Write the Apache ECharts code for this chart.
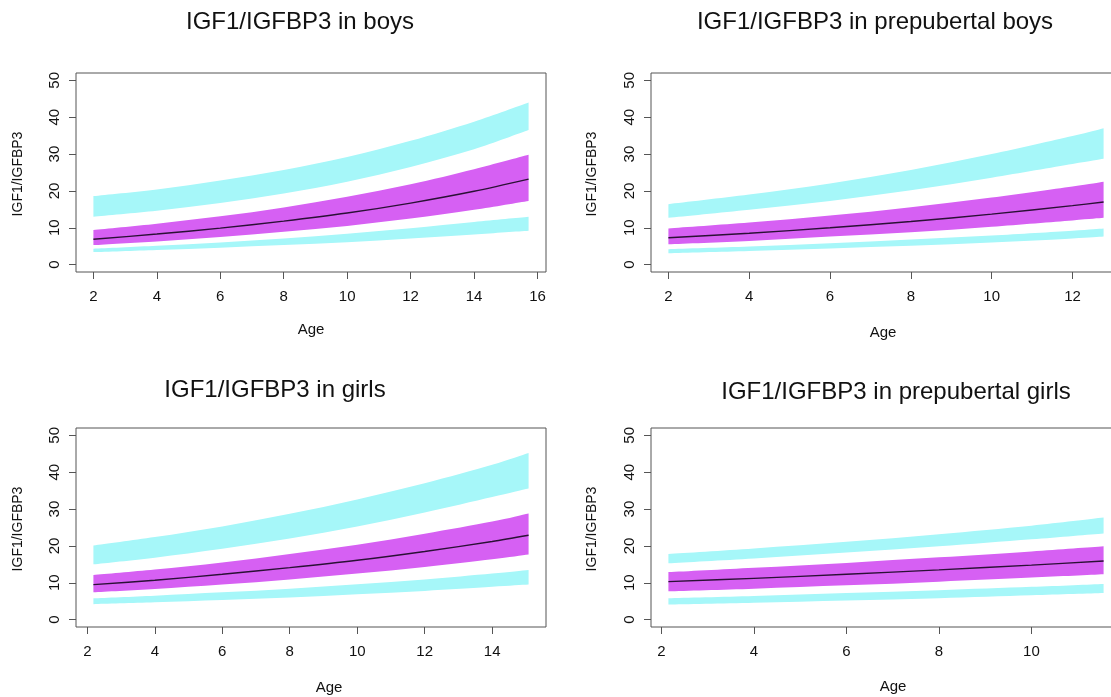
<!DOCTYPE html>
<html><head><meta charset="utf-8">
<script src="https://cdn.jsdelivr.net/npm/echarts@6/dist/echarts.min.js"></script>
<style>html,body{margin:0;padding:0;background:#fff}#c{width:1111px;height:697px}</style>
</head><body><div id="c"></div>
<script>
// ---------- data ----------
const panelTitles = ['IGF1/IGFBP3 in boys', 'IGF1/IGFBP3 in prepubertal boys', 'IGF1/IGFBP3 in girls', 'IGF1/IGFBP3 in prepubertal girls'];
const xTickLabels = [[2,4,6,8,10,12,14,16],[2,4,6,8,10,12],[2,4,6,8,10,12,14],[2,4,6,8,10]];
const yTickLabels = [0,10,20,30,40,50];

// boys
const boysAge       = [2, 4, 6, 8, 10, 12, 14, 15.72];
const boysHiTop     = [18.6, 20.4, 22.8, 25.7, 29.2, 33.6, 38.8, 44.0];
const boysHiBot     = [13.0, 14.6, 16.7, 19.3, 22.5, 26.5, 31.3, 36.5];
const boysMidTop    = [9.4, 11.1, 13.1, 15.5, 18.4, 21.8, 25.9, 29.8];
const boysMedian    = [6.9, 8.3, 9.9, 11.8, 14.0, 16.7, 19.9, 23.2];
const boysMidBot    = [5.3, 6.3, 7.5, 8.9, 10.5, 12.5, 14.9, 17.3];
const boysLoTop     = [4.3, 5.1, 6.0, 7.1, 8.4, 9.9, 11.6, 13.0];
const boysLoBot     = [3.4, 4.0, 4.6, 5.3, 6.1, 7.1, 8.2, 9.2];
// prepubertal boys
const pBoysAge      = [2, 4, 6, 8, 10, 12, 12.77];
const pBoysHiTop    = [16.4, 19.0, 22.0, 25.7, 30.0, 34.9, 37.0];
const pBoysHiBot    = [12.7, 14.9, 17.3, 20.2, 23.6, 27.3, 28.7];
const pBoysMidTop   = [9.8, 11.4, 13.3, 15.6, 18.2, 21.2, 22.5];
const pBoysMedian   = [7.3, 8.5, 10.0, 11.7, 13.7, 16.0, 17.0];
const pBoysMidBot   = [5.5, 6.4, 7.6, 8.8, 10.3, 12.0, 12.7];
const pBoysLoTop    = [4.2, 4.9, 5.8, 6.8, 7.9, 9.2, 9.8];
const pBoysLoBot    = [3.1, 3.7, 4.4, 5.1, 6.0, 7.1, 7.6];
// girls
const girlsAge      = [2.18, 4, 6, 8, 10, 12, 14, 15.08];
const girlsHiTop    = [20.1, 22.4, 25.3, 28.7, 32.6, 37.0, 42.0, 45.2];
const girlsHiBot    = [15.0, 16.8, 19.2, 22.0, 25.3, 29.1, 33.3, 35.6];
const girlsMidTop   = [12.1, 13.6, 15.5, 17.8, 20.3, 23.3, 26.6, 28.8];
const girlsMedian   = [9.5, 10.7, 12.3, 14.1, 16.1, 18.5, 21.2, 22.9];
const girlsMidBot   = [7.4, 8.3, 9.5, 10.9, 12.5, 14.3, 16.4, 17.7];
const girlsLoTop    = [5.8, 6.5, 7.4, 8.4, 9.6, 10.9, 12.5, 13.5];
const girlsLoBot    = [4.2, 4.7, 5.3, 6.0, 6.9, 7.8, 8.9, 9.5];
// prepubertal girls
const pGirlsAge     = [2.15, 4, 6, 8, 10, 11.56];
const pGirlsHiTop   = [17.8, 19.3, 21.1, 23.2, 25.5, 27.7];
const pGirlsHiBot   = [15.3, 16.6, 18.2, 19.9, 21.8, 23.4];
const pGirlsMidTop  = [12.9, 14.1, 15.4, 16.9, 18.5, 19.9];
const pGirlsMedian  = [10.3, 11.2, 12.3, 13.5, 14.8, 15.9];
const pGirlsMidBot  = [7.7, 8.4, 9.3, 10.3, 11.4, 12.3];
const pGirlsLoTop   = [5.8, 6.4, 7.2, 8.0, 8.9, 9.7];
const pGirlsLoBot   = [4.1, 4.6, 5.2, 5.8, 6.6, 7.2];

// ---------- layout & style ----------
const panels = [
  {age: boysAge,   hiTop: boysHiTop,   hiBot: boysHiBot,   midTop: boysMidTop,   med: boysMedian,   midBot: boysMidBot,   loTop: boysLoTop,   loBot: boysLoBot},
  {age: pBoysAge,  hiTop: pBoysHiTop,  hiBot: pBoysHiBot,  midTop: pBoysMidTop,  med: pBoysMedian,  midBot: pBoysMidBot,  loTop: pBoysLoTop,  loBot: pBoysLoBot},
  {age: girlsAge,  hiTop: girlsHiTop,  hiBot: girlsHiBot,  midTop: girlsMidTop,  med: girlsMedian,  midBot: girlsMidBot,  loTop: girlsLoTop,  loBot: girlsLoBot},
  {age: pGirlsAge, hiTop: pGirlsHiTop, hiBot: pGirlsHiBot, midTop: pGirlsMidTop, med: pGirlsMedian, midBot: pGirlsMidBot, loTop: pGirlsLoTop, loBot: pGirlsLoBot}
];
const boxes = [
  {left: 76,  top: 73,  width: 470, height: 199},
  {left: 651, top: 73,  width: 470, height: 199},
  {left: 76,  top: 428, width: 470, height: 199},
  {left: 651, top: 428, width: 470, height: 199}
];
const titlePos = [[300, 22.5], [875, 22.5], [275, 390.5], [896, 392]];
const agePos   = [[311, 330], [883, 333], [329, 688], [893, 687]];
const yNamePos = [[18, 174], [592, 174], [18, 529], [592, 529]];

const CYAN = '#a6f7f9';
const MAGENTA = '#d660f3';
const AXIS = '#555';
const TEXT = '#111';
const FONT = 'Liberation Sans, Arial, Helvetica, sans-serif';

// smooth (Catmull-Rom -> cubic Bezier) path segment through screen points
function curveTo(pts) {
  let d = '';
  for (let i = 0; i < pts.length - 1; i++) {
    const p0 = pts[Math.max(i - 1, 0)], p1 = pts[i], p2 = pts[i + 1], p3 = pts[Math.min(i + 2, pts.length - 1)];
    const c1 = [p1[0] + (p2[0] - p0[0]) / 6, p1[1] + (p2[1] - p0[1]) / 6];
    const c2 = [p2[0] - (p3[0] - p1[0]) / 6, p2[1] - (p3[1] - p1[1]) / 6];
    d += ' C' + c1[0] + ',' + c1[1] + ' ' + c2[0] + ',' + c2[1] + ' ' + p2[0] + ',' + p2[1];
  }
  return d;
}
// band drawn as one closed shape through the axes' scales
function bandRender(color) {
  return function (params, api) {
    if (params.dataIndexInside !== 0) return null;
    const n = params.dataInsideLength;
    const top = [], bot = [];
    for (let j = 0; j < n; j++) top.push(api.coord([api.value(0, j), api.value(1, j)]));
    for (let j = n - 1; j >= 0; j--) bot.push(api.coord([api.value(0, j), api.value(2, j)]));
    const d = 'M' + top[0][0] + ',' + top[0][1] + curveTo(top) +
              ' L' + bot[0][0] + ',' + bot[0][1] + curveTo(bot) + ' Z';
    return {type: 'path', shape: {pathData: d}, style: {fill: color, stroke: null}, silent: true};
  };
}

const grids = [], xAxes = [], yAxes = [], series = [], graphics = [];
panels.forEach((p, i) => {
  const first = p.age[0], last = p.age[p.age.length - 1];
  const pad = (last - first) * 0.04;
  grids.push(Object.assign({show: true, borderColor: AXIS, borderWidth: 1, backgroundColor: '#fff',
    containLabel: false, outerBoundsMode: 'none'}, boxes[i]));
  xAxes.push({
    type: 'value', gridIndex: i, min: first - pad, max: last + pad,
    axisLine: {show: false, onZero: false}, splitLine: {show: false},
    axisTick: {show: true, length: 7, customValues: xTickLabels[i], lineStyle: {color: AXIS, width: 1}},
    axisLabel: {customValues: xTickLabels[i], margin: 17, color: TEXT, fontSize: 15, fontFamily: FONT}
  });
  yAxes.push({
    type: 'value', gridIndex: i, min: -2, max: 52,
    axisLine: {show: false, onZero: false}, splitLine: {show: false},
    axisTick: {show: true, length: 7, customValues: yTickLabels, lineStyle: {color: AXIS, width: 1}},
    axisLabel: {customValues: yTickLabels, rotate: 90, margin: 14, color: TEXT, fontSize: 15, fontFamily: FONT}
  });
  const rows = (top, bot) => p.age.map((a, k) => [a, top[k], bot[k]]);
  const band = (name, top, bot, color) => ({
    type: 'custom', name, xAxisIndex: i, yAxisIndex: i, data: rows(top, bot),
    encode: {x: 0, y: [1, 2]}, renderItem: bandRender(color), silent: true, z: 2
  });
  series.push(band('lowBand' + i, p.loTop, p.loBot, CYAN));
  series.push(band('midBand' + i, p.midTop, p.midBot, MAGENTA));
  series.push(band('highBand' + i, p.hiTop, p.hiBot, CYAN));
  series.push({
    type: 'line', name: 'median' + i, xAxisIndex: i, yAxisIndex: i,
    data: p.age.map((a, k) => [a, p.med[k]]),
    smooth: 0.3, symbol: 'none', lineStyle: {width: 1.4, color: '#2a1035'}, silent: true, z: 5
  });
  graphics.push({type: 'text', x: titlePos[i][0], y: titlePos[i][1],
    style: {text: panelTitles[i], fill: TEXT, font: '24px ' + FONT, textAlign: 'center', textVerticalAlign: 'middle'}});
  graphics.push({type: 'text', x: agePos[i][0], y: agePos[i][1],
    style: {text: 'Age', fill: TEXT, font: '15px ' + FONT, textAlign: 'center', textVerticalAlign: 'middle'}});
  graphics.push({type: 'text', x: yNamePos[i][0], y: yNamePos[i][1], rotation: Math.PI / 2,
    style: {text: 'IGF1/IGFBP3', fill: TEXT, font: '14px ' + FONT, textAlign: 'center', textVerticalAlign: 'middle'}});
});

const chart = echarts.init(document.getElementById('c'), null, {renderer: 'canvas'});
chart.setOption({
  animation: false,
  backgroundColor: '#fff',
  grid: grids, xAxis: xAxes, yAxis: yAxes, series,
  graphic: graphics
});
</script>
</body></html>
